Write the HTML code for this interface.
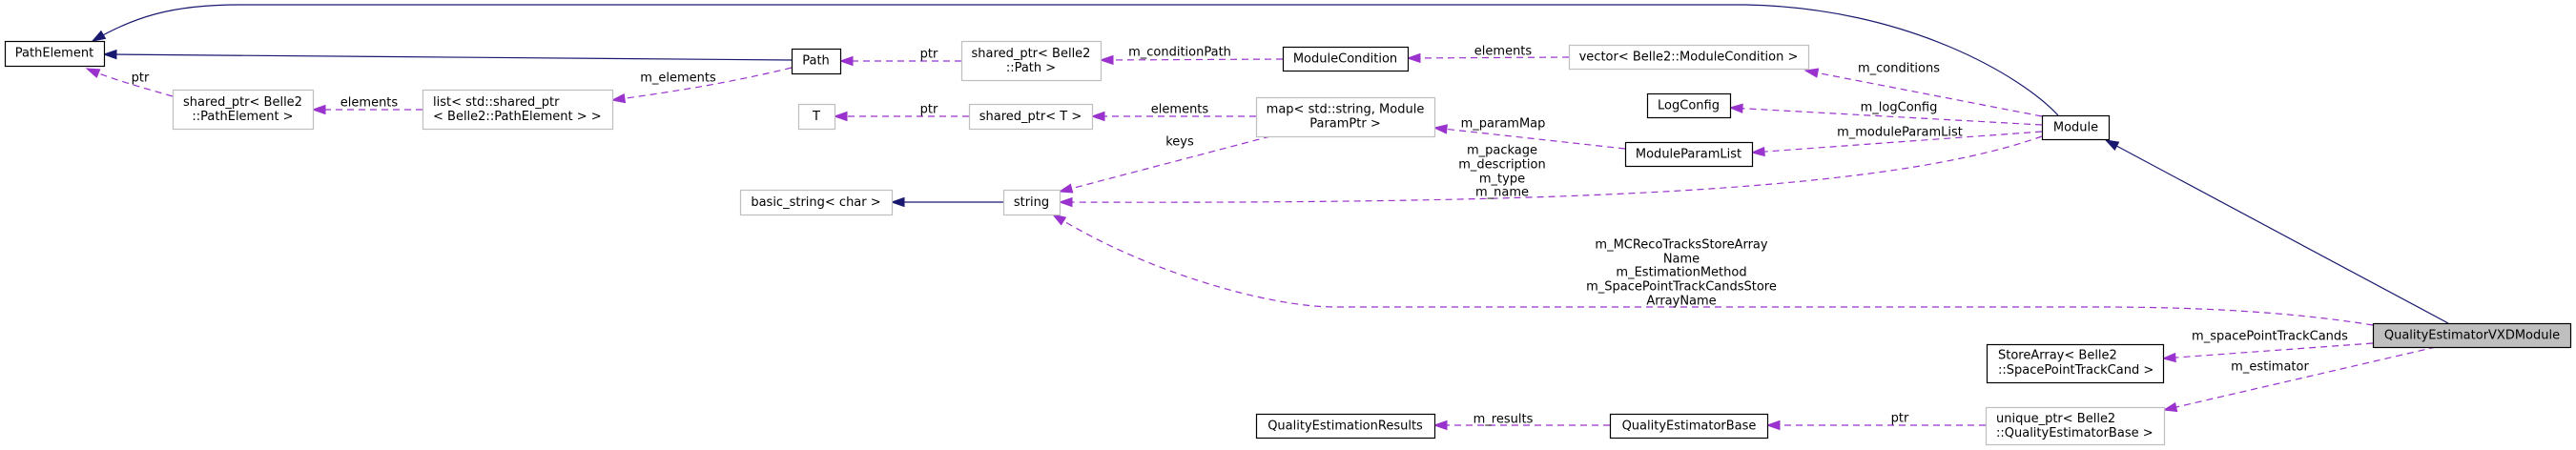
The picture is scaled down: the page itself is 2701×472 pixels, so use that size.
<!DOCTYPE html>
<html><head><meta charset="utf-8"><style>
html,body{margin:0;padding:0;background:#fff;}
svg{display:block;}
text{font-family:"DejaVu Sans","Liberation Sans",sans-serif;font-size:13px;fill:#000;}
.b{fill:#fff;stroke:#000;stroke-width:1.2;}
.g{fill:#fff;stroke:#bfbfbf;stroke-width:1.2;}
.inh{fill:none;stroke:#191970;stroke-width:1.2;}
.use{fill:none;stroke:#9a32cd;stroke-width:1.2;stroke-dasharray:7,5;}
</style></head><body>
<svg width="2701" height="472" viewBox="0 0 2701 472" xmlns="http://www.w3.org/2000/svg">
<defs>
<marker id="an" markerUnits="userSpaceOnUse" markerWidth="13" markerHeight="9" refX="13" refY="4.5" orient="auto" overflow="visible"><path d="M0,0 L13,4.5 L0,9 z" fill="#191970" stroke="#191970"/></marker>
<marker id="ap" markerUnits="userSpaceOnUse" markerWidth="13" markerHeight="9" refX="13" refY="4.5" orient="auto" overflow="visible"><path d="M0,0 L13,4.5 L0,9 z" fill="#9a32cd" stroke="#9a32cd"/></marker>
</defs>

<!-- inheritance edges -->
<path class="inh" marker-end="url(#an)" d="M2158,121 C2120,80 2000,8 1830,5 L250,5 C180,5 140,18 97,43"/>
<path class="inh" marker-end="url(#an)" d="M830,63 L109,57"/>
<path class="inh" marker-end="url(#an)" d="M1052,212 L935,212"/>
<path class="inh" marker-end="url(#an)" d="M2567,339 L2208,147"/>

<!-- usage edges -->
<path class="use" marker-end="url(#ap)" d="M181,101 C150,92 120,84 91,72"/>
<path class="use" marker-end="url(#ap)" d="M443,115 L328,115"/>
<path class="use" marker-end="url(#ap)" d="M830,71 C760,88 700,97 642,105"/>
<path class="use" marker-end="url(#ap)" d="M1008,64 L881,64"/>
<path class="use" marker-end="url(#ap)" d="M1345,62 L1154,63"/>
<path class="use" marker-end="url(#ap)" d="M1645,60 L1476,61"/>
<path class="use" marker-end="url(#ap)" d="M1016,122 L875,122"/>
<path class="use" marker-end="url(#ap)" d="M1317,122 L1145,122"/>
<path class="use" marker-end="url(#ap)" d="M1332,143 L1111,201"/>
<path class="use" marker-end="url(#ap)" d="M1704,156 L1504,134"/>
<path class="use" marker-end="url(#ap)" d="M2141,122 L1893,74"/>
<path class="use" marker-end="url(#ap)" d="M2141,131 L1814,113"/>
<path class="use" marker-end="url(#ap)" d="M2141,138 L1837,160"/>
<path class="use" marker-end="url(#ap)" d="M2141,143 C1980,200 1650,214 1111,212"/>
<path class="use" marker-end="url(#ap)" d="M2488,341 C2420,330 2330,322 2200,322 L1400,322 C1330,322 1200,285 1104,225"/>
<path class="use" marker-end="url(#ap)" d="M2488,360 L2268,376"/>
<path class="use" marker-end="url(#ap)" d="M2554,364 L2269,430"/>
<path class="use" marker-end="url(#ap)" d="M2082,446 L1853,446"/>
<path class="use" marker-end="url(#ap)" d="M1688,446 L1504,446"/>

<!-- nodes -->
<rect class="b" x="5.5" y="43.5" width="104" height="26"/>
<text x="57" y="59.5" text-anchor="middle">PathElement</text>

<rect class="g" x="181.5" y="94.5" width="147" height="41"/>
<text x="254.5" y="111" text-anchor="middle">shared_ptr&lt; Belle2</text>
<text x="254.5" y="126" text-anchor="middle">::PathElement &gt;</text>

<rect class="g" x="443.5" y="94.5" width="199" height="41"/>
<text x="454" y="111">list&lt; std::shared_ptr</text>
<text x="454" y="126">&lt; Belle2::PathElement &gt; &gt;</text>

<rect class="b" x="830.5" y="51.5" width="51" height="26"/>
<text x="855.5" y="67.5" text-anchor="middle">Path</text>

<rect class="g" x="1008.5" y="43.5" width="146" height="41"/>
<text x="1081" y="60" text-anchor="middle">shared_ptr&lt; Belle2</text>
<text x="1081" y="75" text-anchor="middle">::Path &gt;</text>

<rect class="b" x="1345.5" y="49.5" width="131" height="25"/>
<text x="1410.5" y="65.5" text-anchor="middle">ModuleCondition</text>

<rect class="g" x="1645.5" y="47.5" width="251" height="25"/>
<text x="1770.5" y="63.5" text-anchor="middle">vector&lt; Belle2::ModuleCondition &gt;</text>

<rect class="g" x="837.5" y="109.5" width="38" height="26"/>
<text x="856" y="126" text-anchor="middle">T</text>

<rect class="g" x="1016.5" y="109.5" width="129" height="26"/>
<text x="1080.5" y="126" text-anchor="middle">shared_ptr&lt; T &gt;</text>

<rect class="g" x="1317.5" y="102.5" width="187" height="41"/>
<text x="1410.5" y="118.5" text-anchor="middle">map&lt; std::string, Module</text>
<text x="1410.5" y="133.5" text-anchor="middle">ParamPtr &gt;</text>

<rect class="b" x="1727.5" y="98.5" width="87" height="25"/>
<text x="1770.5" y="114.5" text-anchor="middle">LogConfig</text>

<rect class="b" x="1704.5" y="149.5" width="133" height="25"/>
<text x="1770.5" y="165.5" text-anchor="middle">ModuleParamList</text>

<rect class="b" x="2141.5" y="121.5" width="70" height="25"/>
<text x="2176.5" y="137.5" text-anchor="middle">Module</text>

<rect class="g" x="776.5" y="199.5" width="159" height="26"/>
<text x="855.5" y="216" text-anchor="middle">basic_string&lt; char &gt;</text>

<rect class="g" x="1052.5" y="199.5" width="59" height="26"/>
<text x="1081.5" y="216" text-anchor="middle">string</text>

<rect x="2488.5" y="339.5" width="207" height="25" fill="#bfbfbf" stroke="#000" stroke-width="1.2"/>
<text x="2592" y="355.5" text-anchor="middle">QualityEstimatorVXDModule</text>

<rect class="b" x="2083.5" y="361.5" width="185" height="40"/>
<text x="2095" y="376.5">StoreArray&lt; Belle2</text>
<text x="2095" y="392">::SpacePointTrackCand &gt;</text>

<rect class="g" x="2082.5" y="427.5" width="187" height="39"/>
<text x="2093" y="443">unique_ptr&lt; Belle2</text>
<text x="2093" y="458">::QualityEstimatorBase &gt;</text>

<rect class="b" x="1317.5" y="434.5" width="187" height="25"/>
<text x="1410.5" y="450.5" text-anchor="middle">QualityEstimationResults</text>

<rect class="b" x="1688.5" y="434.5" width="165" height="25"/>
<text x="1771" y="450.5" text-anchor="middle">QualityEstimatorBase</text>

<!-- edge labels -->
<g text-anchor="middle">
<text x="147" y="85.5">ptr</text>
<text x="387" y="111.5">elements</text>
<text x="711" y="85.5">m_elements</text>
<text x="974" y="60.5">ptr</text>
<text x="1237" y="58.5">m_conditionPath</text>
<text x="1576" y="57.5">elements</text>
<text x="974" y="118.5">ptr</text>
<text x="1237" y="118.5">elements</text>
<text x="1237" y="152.5">keys</text>
<text x="1576" y="133.5">m_paramMap</text>
<text x="1991" y="75.5">m_conditions</text>
<text x="1991" y="116.5">m_logConfig</text>
<text x="1992" y="142.5">m_moduleParamList</text>
<text x="1575" y="161.5">m_package</text>
<text x="1575" y="176.5">m_description</text>
<text x="1575" y="191.5">m_type</text>
<text x="1575" y="205.5">m_name</text>
<text x="1763" y="260.5">m_MCRecoTracksStoreArray</text>
<text x="1763" y="275.5">Name</text>
<text x="1763" y="289.5">m_EstimationMethod</text>
<text x="1763" y="304.5">m_SpacePointTrackCandsStore</text>
<text x="1763" y="319.5">ArrayName</text>
<text x="2380" y="356.5">m_spacePointTrackCands</text>
<text x="2380" y="388.5">m_estimator</text>
<text x="1992" y="442.5">ptr</text>
<text x="1576" y="443.5">m_results</text>
</g>
</svg>
</body></html>
